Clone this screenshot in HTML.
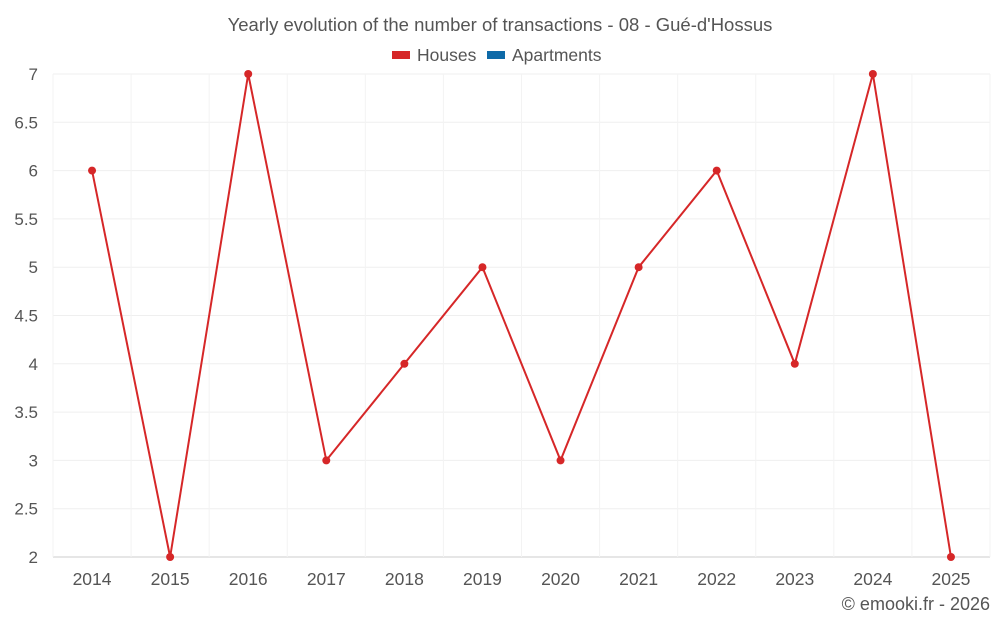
<!DOCTYPE html>
<html><head><meta charset="utf-8"><style>
body{margin:0;background:#fff;font-family:"Liberation Sans",sans-serif;}
svg text{font-family:"Liberation Sans",sans-serif;fill:#555;}
</style></head><body>
<svg id="c" width="1000" height="625">
<text x="500" y="31" text-anchor="middle" font-size="18.5">Yearly evolution of the number of transactions - 08 - Gué-d'Hossus</text>
<g>
<g><rect x="392" y="51" width="18" height="8" fill="#d62728"/><text x="417" y="61" font-size="17.5">Houses</text></g>
<g><rect x="487" y="51" width="18" height="8" fill="#0e6aa8"/><text x="512" y="61" font-size="17.5">Apartments</text></g>
</g>
<g id="grid"></g>
<g id="axes"></g>
<g id="series"></g>
<text x="990" y="610" text-anchor="end" font-size="18">© emooki.fr - 2026</text>
</svg>
<script>
const categories=["2014","2015","2016","2017","2018","2019","2020","2021","2022","2023","2024","2025"];
const houses=[6,2,7,3,4,5,3,5,6,4,7,2];
const yTicks=[2,2.5,3,3.5,4,4.5,5,5.5,6,6.5,7];
const L=53,R=990,T=74,B=557,yMin=2,yMax=7;
const bw=(R-L)/categories.length;
const x=i=>L+bw*(i+0.5);
const y=v=>B-(v-yMin)/(yMax-yMin)*(B-T);
const ns="http://www.w3.org/2000/svg";
const mk=(p,t,a)=>{const e=document.createElementNS(ns,t);for(const k in a)e.setAttribute(k,a[k]);p.appendChild(e);return e;};
const grid=document.getElementById('grid'),axes=document.getElementById('axes'),ser=document.getElementById('series');
yTicks.forEach(v=>{
 const l=mk(grid,'line',{x1:L,x2:R,y1:y(v),y2:y(v),stroke:v===yMin?'#ccc':'#efefef'});
 
 
 const t=mk(axes,'text',{x:38,y:y(v)+6,'text-anchor':'end','font-size':17});
 t.textContent=v;
 
 
});
for(let i=0;i<=categories.length;i++){
 const l=mk(grid,'line',{x1:L+bw*i,x2:L+bw*i,y1:T,y2:B,stroke:'#f3f3f3'});
 
 
}
categories.forEach((c,i)=>{
 const t=mk(axes,'text',{x:x(i),y:585,'text-anchor':'middle','font-size':17.5});
 t.textContent=c;
 
 
});
const line=mk(ser,'polyline',{points:houses.map((v,i)=>x(i)+','+y(v)).join(' '),fill:'none',stroke:'#d62728','stroke-width':2});


houses.forEach((v,i)=>{
 const p=mk(ser,'circle',{cx:x(i),cy:y(v),r:4,fill:'#d62728'});
 
 
});
</script>
</body></html>
